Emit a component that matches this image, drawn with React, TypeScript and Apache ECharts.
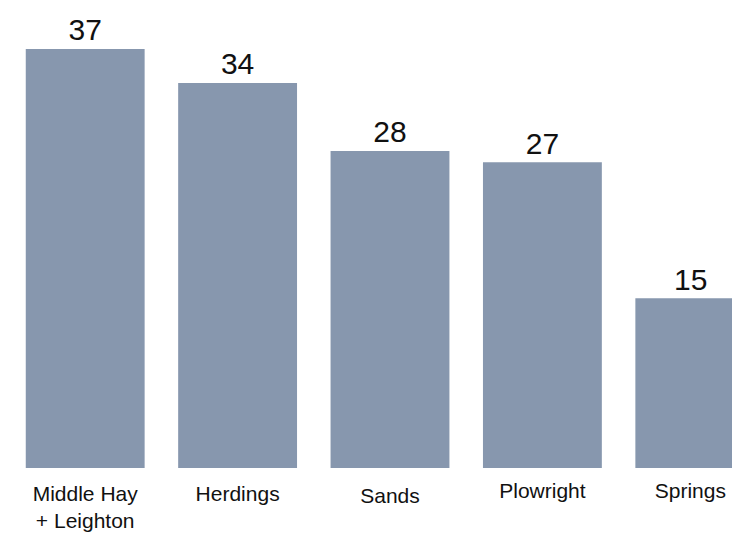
import React, { useEffect, useRef } from "react";
import * as echarts from "echarts";

const categories = ["Middle Hay\n+ Leighton", "Herdings", "Sands", "Plowright", "Springs"];
const labelShift = [3, 3, 5, 0, 0];
const labelRightPad = [0, 0, 0, 0, 9];
const values = [37, 34, 28, 27, 15];
const valueLabelDx = [0, 0, 0, 0, -4];

export default function App() {
  const ref = useRef<HTMLDivElement>(null);
  useEffect(() => {
    document.body.style.margin = "0";
    const chart = echarts.init(ref.current!, null, { renderer: "svg" });
    chart.setOption({
      animation: false,
      backgroundColor: "#ffffff",
      grid: { left: 9, right: 0, top: 15, bottom: 63, containLabel: false },
      xAxis: {
        type: "category",
        data: categories.map((c, i) => ({
          value: c,
          textStyle: { padding: [labelShift[i], labelRightPad[i], 0, 0] },
        })),
        axisLine: { show: false },
        axisTick: { show: false },
        axisLabel: {
          color: "#111111",
          fontSize: 21,
          fontFamily: "Liberation Sans, Arial, sans-serif",
          margin: 9,
          lineHeight: 27,
          interval: 0,
        },
      },
      yAxis: {
        type: "value",
        min: 0,
        max: 40,
        show: false,
        splitLine: { show: false },
      },
      series: [
        {
          type: "bar",
          data: values.map((v, i) => ({
            value: v,
            label: { offset: [valueLabelDx[i], 0] },
          })),
          barCategoryGap: "22%",
          itemStyle: { color: "#8797ae" },
          label: {
            show: true,
            position: "top",
            distance: 4,
            color: "#111111",
            fontSize: 30,
            fontFamily: "Liberation Sans, Arial, sans-serif",
          },
        },
      ],
    });
    return () => chart.dispose();
  }, []);
  return (
    <div style={{ width: 732, height: 534, overflow: "hidden", position: "relative" }}>
      <div ref={ref} style={{ width: 771, height: 534 }} />
    </div>
  );
}
